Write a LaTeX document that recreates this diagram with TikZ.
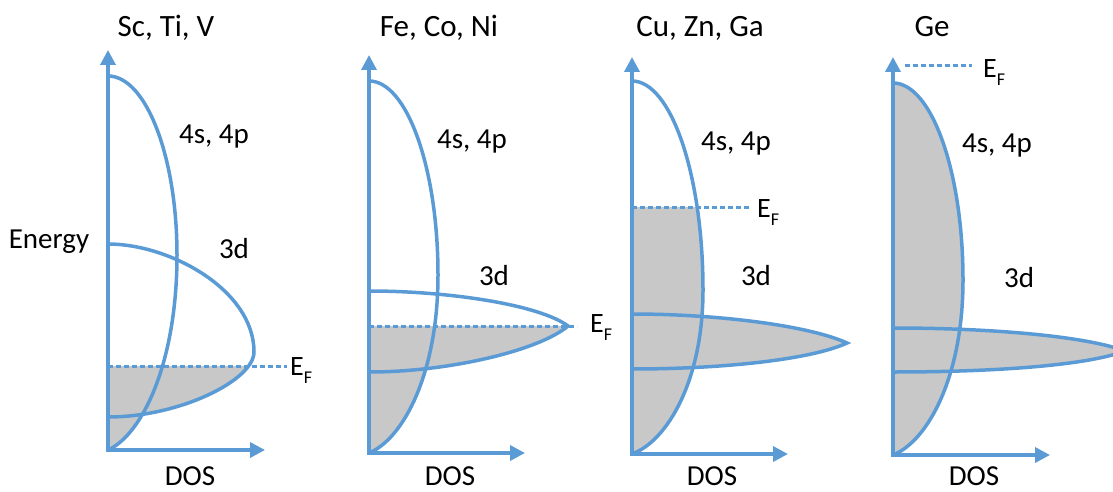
\documentclass[tikz,border=0pt]{standalone}
\usepackage{fontspec}
\setmainfont{Carlito}
\usetikzlibrary{arrows.meta}
\definecolor{bl}{RGB}{91,155,213}
\definecolor{fillgray}{RGB}{200,200,200}
\newcommand{\EF}{E\raisebox{-8pt}{\fontsize{18}{18}\selectfont F}}
\begin{document}
\begin{tikzpicture}[x=1pt,y=-1pt,
  curve/.style={draw=bl,line width=3.5pt},
  axes/.style={draw=bl,line width=3.5pt,{Triangle[length=15pt,width=15pt]}-{Triangle[length=15pt,width=15pt]}},
  efline/.style={draw=bl,line width=3pt,dash pattern=on 5pt off 3pt},
  lbl/.style={inner sep=0pt,font=\fontsize{29}{32}\selectfont,anchor=base},
  ttl/.style={inner sep=0pt,font=\fontsize{31}{34}\selectfont,anchor=base},
  eflbl/.style={inner sep=0pt,font=\fontsize{28}{30}\selectfont,anchor=base west},
  sband/.style n args={5}{insert path={(#1,#2) .. controls ({#1+0.55*#4},#2) and ({#1+#4},{#5-0.55*(#5-#2)}) .. ({#1+#4},#5) .. controls ({#1+#4},{#5+0.55*(#3-#5)}) and ({#1+0.5*#4},{#3-0.08*(#3-#5)}) .. (#1,#3)}},
]
\useasboundingbox (0,0) rectangle (1113,492);

% ---------------- Panel 1 ----------------
\begin{scope}
  \clip (100,366) rectangle (300,470);
  \fill[fillgray, sband={108}{76}{450}{69}{255}] -- cycle;
  \fill[fillgray] (108,244) .. controls (170,244) and (254,290) .. (254,352) .. controls (254,380) and (180,417) .. (108,417) -- cycle;
\end{scope}
\coordinate (ef1a) at (108,366);
\coordinate (ef1b) at (287,366);
\draw[efline] (ef1a) -- (ef1b);
\draw[curve, sband={108}{76}{450}{69}{255}];
\draw[curve] (108,244) .. controls (170,244) and (254,290) .. (254,352) .. controls (254,380) and (180,417) .. (108,417);
\coordinate (o1) at (108,450);
\coordinate (t1) at (108,50);
\coordinate (r1) at (265,450);
\draw[axes] (t1) -- (o1) -- (r1);
\node[ttl] (title1) at (166,37) {Sc, Ti, V};
\node[lbl] (energy) at (49,248) {Energy};
\node[lbl] (s1) at (214,143) {4s, 4p};
\node[lbl] (d1) at (234,258) {3d};
\node[lbl] (dos1) at (190,485) {DOS};
\node[eflbl] (efl1) at (290,375) {\EF};

% ---------------- Panel 2 ----------------
\begin{scope}
  \clip (360,326) rectangle (600,470);
  \fill[fillgray, sband={369}{81}{453}{69}{275}] -- cycle;
  \fill[fillgray] (369,291) .. controls (450,291) and (540,305) .. (568,326) .. controls (540,350) and (450,372) .. (369,372) -- cycle;
\end{scope}
\coordinate (ef2a) at (369,326);
\coordinate (ef2b) at (577,326);
\draw[efline] (ef2a) -- (ef2b);
\draw[curve, sband={369}{81}{453}{69}{275}];
\draw[curve] (369,291) .. controls (450,291) and (540,305) .. (568,326) .. controls (540,350) and (450,372) .. (369,372);
\coordinate (o2) at (369,453);
\coordinate (t2) at (369,55);
\coordinate (r2) at (525,453);
\draw[axes] (t2) -- (o2) -- (r2);
\node[ttl] (title2) at (439,37) {Fe, Co, Ni};
\node[lbl] (s2) at (472,148) {4s, 4p};
\node[lbl] (d2) at (494,285) {3d};
\node[lbl] (dos2) at (450,485) {DOS};
\node[eflbl] (efl2) at (590,332) {\EF};

% ---------------- Panel 3 ----------------
\begin{scope}
  \clip (620,207) rectangle (870,470);
  \fill[fillgray, sband={632}{81}{454}{71}{290}] -- cycle;
  \fill[fillgray] (632,314) .. controls (720,314) and (810,326) .. (847,343) .. controls (810,360) and (720,369) .. (632,369) -- cycle;
\end{scope}
\coordinate (ef3a) at (632,207);
\coordinate (ef3b) at (750,207);
\draw[efline] (ef3a) -- (ef3b);
\draw[curve, sband={632}{81}{454}{71}{290}];
\draw[curve] (632,314) .. controls (720,314) and (810,326) .. (847,343) .. controls (810,360) and (720,369) .. (632,369);
\coordinate (o3) at (632,454);
\coordinate (t3) at (632,57);
\coordinate (r3) at (788,454);
\draw[axes] (t3) -- (o3) -- (r3);
\node[ttl] (title3) at (700,37) {Cu, Zn, Ga};
\node[lbl] (s3) at (736,150) {4s, 4p};
\node[lbl] (d3) at (756,285) {3d};
\node[lbl] (dos3) at (712,485) {DOS};
\node[eflbl] (efl3) at (757,217) {\EF};

% ---------------- Panel 4 ----------------
\fill[fillgray, sband={893}{83}{455}{70}{280}] -- cycle;
\fill[fillgray] (893,328) .. controls (990,328) and (1085,336) .. (1125,351) .. controls (1085,366) and (990,372) .. (893,372) -- cycle;
\coordinate (ef4a) at (905,66);
\coordinate (ef4b) at (972,66);
\draw[efline] (ef4a) -- (ef4b);
\draw[curve, sband={893}{83}{455}{70}{280}];
\draw[curve] (893,328) .. controls (990,328) and (1085,336) .. (1125,351) .. controls (1085,366) and (990,372) .. (893,372);
\coordinate (o4) at (893,455);
\coordinate (t4) at (893,57);
\coordinate (r4) at (1050,455);
\draw[axes] (t4) -- (o4) -- (r4);
\node[ttl] (title4) at (932,37) {Ge};
\node[lbl] (s4) at (997,153) {4s, 4p};
\node[lbl] (d4) at (1019,287) {3d};
\node[lbl] (dos4) at (974,485) {DOS};
\node[eflbl] (efl4) at (983,78) {\EF};
\end{tikzpicture}
\end{document}
